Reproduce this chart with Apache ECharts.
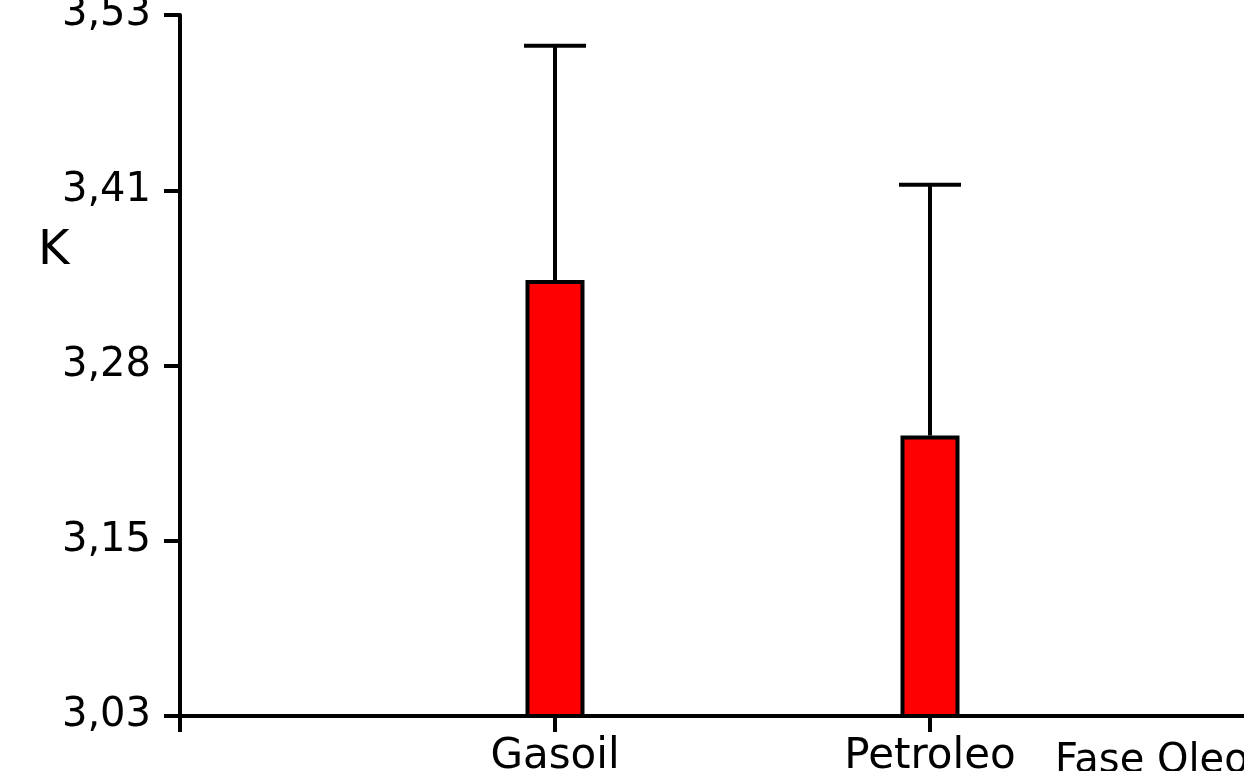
<!DOCTYPE html>
<html>
<head>
<meta charset="utf-8">
<title>K por fase oleosa</title>
<script src="https://cdn.jsdelivr.net/npm/echarts@6/dist/echarts.min.js"></script>
<style>
  html, body { margin: 0; padding: 0; background: #ffffff; }
  #chart { width: 1244px; height: 771px; }
</style>
</head>
<body>
<div id="chart"></div>
<script>
// Category slots: the first and last are empty so the bars sit on interior ticks
const categories = ['', 'Gasoil', 'Petroleo', ''];
// Mean K per oil phase (null where there is no bar)
const meanValues = [null, 3.341, 3.23, null];
// Upper error (standard deviation) above each mean
const errorValues = [null, 0.167, 0.179, null];
// Y tick labels, written with a decimal comma
const yTickLabels = ['3,03', '3,15', '3,28', '3,41', '3,53'];
const yAxisTitle = 'K';
const xAxisTitle = 'Fase Oleosa';

const font = 'DejaVu Sans';
const strokeW = 4;

const errorData = categories.map((c, i) =>
  meanValues[i] == null ? null : [i, meanValues[i], meanValues[i] + errorValues[i]]
).filter(d => d);

const chart = echarts.init(document.getElementById('chart'), null, { renderer: 'canvas' });

chart.setOption({
  animation: false,
  backgroundColor: '#ffffff',
  grid: {
    left: 180, top: 15, height: 701, width: 1125,
    containLabel: false, outerBoundsMode: 'none'
  },
  xAxis: {
    type: 'category',
    data: categories,
    boundaryGap: false,
    axisLine: { show: true, lineStyle: { color: '#000', width: strokeW } },
    axisTick: { show: true, length: 16, lineStyle: { color: '#000', width: strokeW }, interval: 0 },
    axisLabel: { interval: 0, color: '#000', fontFamily: font, fontSize: 42, margin: 20 },
    splitLine: { show: false }
  },
  yAxis: {
    type: 'value',
    min: 3.03,
    max: 3.53,
    interval: 0.125,
    axisLine: { show: true, lineStyle: { color: '#000', width: strokeW } },
    axisTick: { show: true, length: 16, lineStyle: { color: '#000', width: strokeW } },
    axisLabel: {
      color: '#000', fontFamily: font, fontSize: 40, margin: 29,
      formatter: (v, i) => yTickLabels[i] != null ? yTickLabels[i] : ''
    },
    splitLine: { show: false }
  },
  graphic: [
    {
      type: 'text', left: 38, top: 228,
      style: { text: yAxisTitle, fill: '#000', font: '48px "DejaVu Sans"' }
    },
    {
      type: 'text', left: 1055, top: 742,
      style: { text: xAxisTitle, fill: '#000', font: '40px "DejaVu Sans"' }
    }
  ],
  series: [
    {
      type: 'bar',
      data: meanValues,
      barWidth: 59,
      itemStyle: { color: '#ff0000', borderColor: '#000', borderWidth: strokeW },
      z: 2
    },
    {
      type: 'custom',
      data: errorData,
      z: 3,
      renderItem: (params, api) => {
        const x = api.value(0);
        const base = api.coord([x, api.value(1)]);
        const top = api.coord([x, api.value(2)]);
        const half = 31;
        const style = { stroke: '#000', lineWidth: strokeW, fill: null };
        return {
          type: 'group',
          children: [
            { type: 'line', shape: { x1: base[0], y1: base[1], x2: top[0], y2: top[1] }, style },
            { type: 'line', shape: { x1: top[0] - half, y1: top[1], x2: top[0] + half, y2: top[1] }, style }
          ]
        };
      }
    }
  ]
});
</script>
</body>
</html>
